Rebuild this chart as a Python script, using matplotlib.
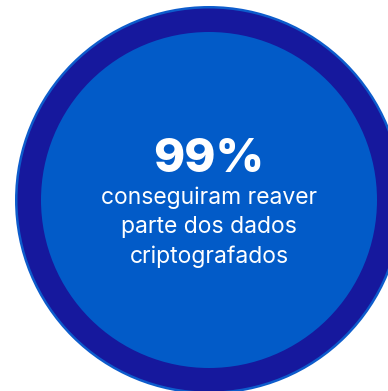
import matplotlib.pyplot as plt
from matplotlib.patches import Circle

# share of victims that recovered part of the encrypted data
pct_recovered = 99
caption_lines = ["conseguiram reaver", "parte dos dados", "criptografados"]

W, H = 388, 391
fig = plt.figure(figsize=(W / 100, H / 100), dpi=100)
ax = fig.add_axes([0, 0, 1, 1])
ax.set_xlim(0, W)
ax.set_ylim(H, 0)
ax.set_aspect("equal")
ax.axis("off")

cx, cy = 209, 200
ax.add_patch(Circle((cx, cy), 194, color="#0d5ccc", lw=0))
ax.add_patch(Circle((cx, cy), 191.5, color="#16189d", lw=0))
ax.add_patch(Circle((cx, cy), 168, color="#025bc8", lw=0))

ax.text(cx, 160, f"{pct_recovered}%", ha="center", va="center",
        color="white", fontsize=34, fontweight="heavy", family="Inter")
for i, line in enumerate(caption_lines):
    ax.text(cx, 198 + i * 29.5, line, ha="center", va="center",
            color="white", fontsize=16.5, family="Inter")

fig.savefig("out.png", dpi=100)
